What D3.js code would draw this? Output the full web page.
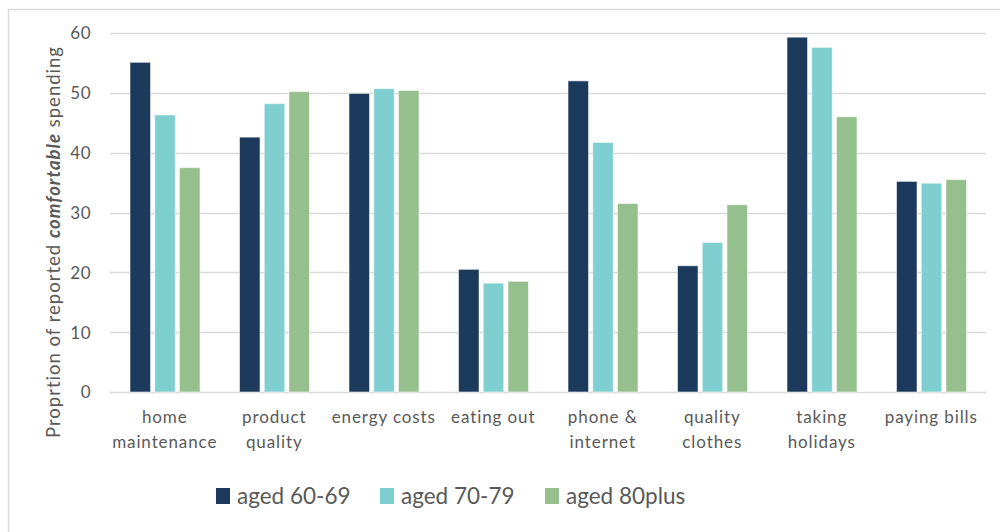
<!DOCTYPE html>
<html>
<head>
<meta charset="utf-8">
<script src="https://cdn.jsdelivr.net/npm/d3@7"></script>
<style>
  html, body { margin: 0; padding: 0; background: #fff; }
  svg { display: block; }
  text { font-family: Lato, "Open Sans", sans-serif; fill: #595959; }
</style>
</head>
<body>
<svg id="chart" width="1000" height="532"></svg>
<script>
// Spending categories and the share (%) reporting comfortable spending, by age group
const categories = [
  ["home", "maintenance"],
  ["product", "quality"],
  ["energy costs"],
  ["eating out"],
  ["phone &", "internet"],
  ["quality", "clothes"],
  ["taking", "holidays"],
  ["paying bills"]
];
const seriesNames = ["aged 60-69", "aged 70-79", "aged 80plus"];
const aged6069 = [55.1, 42.6, 49.9, 20.5, 52.0, 21.1, 59.3, 35.2];
const aged7079 = [46.3, 48.2, 50.7, 18.2, 41.7, 25.0, 57.6, 34.9];
const aged80plus = [37.5, 50.2, 50.4, 18.5, 31.5, 31.3, 46.0, 35.5];
const yTicks = [0, 10, 20, 30, 40, 50, 60];

const seriesValues = [aged6069, aged7079, aged80plus];
const colors = ["#1b3a5c", "#80cfd0", "#95c08e"];

const svg = d3.select("#chart");

// outer chart frame
svg.append("rect")
  .attr("x", 8.5).attr("y", 9.5)
  .attr("width", 1000).attr("height", 540)
  .attr("fill", "none").attr("stroke", "#d9d9d9").attr("stroke-width", 1.5);

const catKeys = categories.map((c, i) => i);
const x0 = d3.scaleBand().domain(catKeys).range([110, 986]).padding(0);
const x1 = d3.scaleBand().domain(d3.range(seriesNames.length))
  .range([20, 90]).paddingInner(0.17);
const y = d3.scaleLinear().domain([0, 60]).range([392, 33]);

// gridlines
svg.append("g")
  .selectAll("line")
  .data(yTicks)
  .join("line")
  .attr("x1", 110).attr("x2", 986)
  .attr("y1", d => Math.round(y(d)) + 0.5)
  .attr("y2", d => Math.round(y(d)) + 0.5)
  .attr("stroke", "#d9d9d9").attr("stroke-width", 1.5);

// y tick labels
const yAxis = svg.append("g")
  .attr("transform", "translate(97,0)")
  .call(d3.axisLeft(y).tickValues(yTicks).tickSize(0).tickPadding(6));
yAxis.select(".domain").remove();
yAxis.selectAll("text")
  .attr("font-family", "Lato, 'Open Sans', sans-serif")
  .attr("font-size", 17)
  .attr("letter-spacing", 0.5)
  .attr("fill", "#595959")
  .attr("dy", "0.35em");

// bars
const groups = svg.append("g")
  .selectAll("g")
  .data(catKeys)
  .join("g")
  .attr("transform", d => `translate(${x0(d)},0)`);

groups.selectAll("rect")
  .data(ci => seriesValues.map((vals, si) => ({ si, v: vals[ci] })))
  .join("rect")
  .attr("x", d => x1(d.si))
  .attr("width", x1.bandwidth())
  .attr("y", d => y(d.v))
  .attr("height", d => y(0) - y(d.v))
  .attr("fill", d => colors[d.si])
  .attr("stroke", "rgba(255,255,255,0.55)")
  .attr("stroke-width", 1);

// category labels
const catLabels = svg.append("g")
  .selectAll("text")
  .data(catKeys)
  .join("text")
  .attr("x", d => x0(d) + x0.bandwidth() / 2)
  .attr("y", 423)
  .attr("text-anchor", "middle")
  .attr("font-size", 17)
  .attr("letter-spacing", 0.9);
catLabels.selectAll("tspan")
  .data(d => categories[d].map((line, li) => ({ line, li, ci: d })))
  .join("tspan")
  .attr("x", d => x0(d.ci) + x0.bandwidth() / 2)
  .attr("dy", d => d.li === 0 ? 0 : 25)
  .text(d => d.line);

// y axis title
const yTitle = svg.append("text")
  .attr("transform", "translate(60,242) rotate(-90)")
  .attr("text-anchor", "middle")
  .attr("font-size", 18.5)
  .attr("letter-spacing", 1);
yTitle.append("tspan").text("Proprtion of reported ");
yTitle.append("tspan").attr("font-weight", "bold").attr("font-style", "italic").text("comfortable");
yTitle.append("tspan").text(" spending");

// legend
const legendX = [216, 380, 545];
const legend = svg.append("g")
  .selectAll("g")
  .data(seriesNames)
  .join("g")
  .attr("transform", (d, i) => `translate(${legendX[i]},488)`);
legend.append("rect")
  .attr("width", 14).attr("height", 16)
  .attr("fill", (d, i) => colors[i]);
legend.append("text")
  .attr("x", 21).attr("y", 8)
  .attr("dy", "0.36em")
  .attr("font-size", 22.5)
  .text(d => d);
</script>
</body>
</html>
